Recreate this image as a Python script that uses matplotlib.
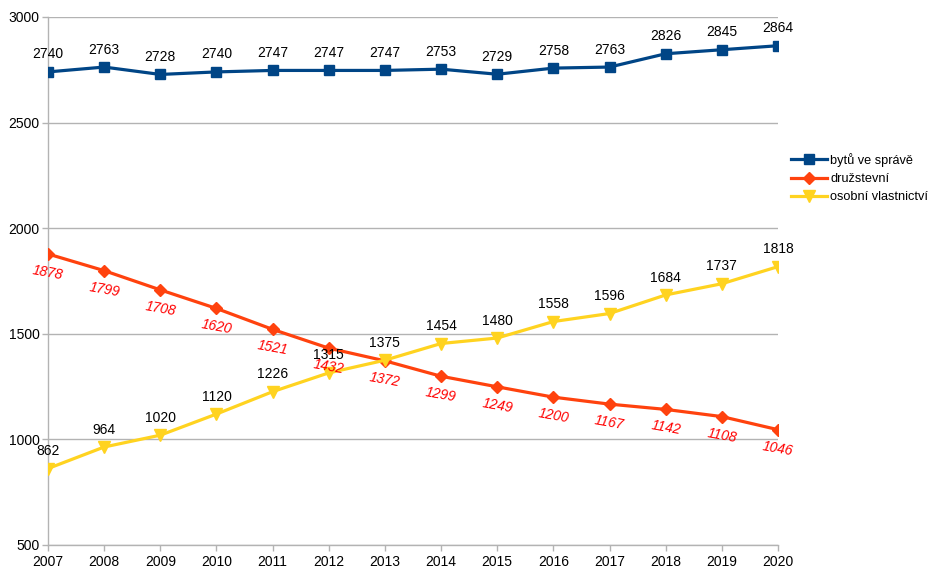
import matplotlib
matplotlib.use("Agg")
import matplotlib.pyplot as plt

years = [2007, 2008, 2009, 2010, 2011, 2012, 2013, 2014, 2015, 2016, 2017, 2018, 2019, 2020]
byty = [2740, 2763, 2728, 2740, 2747, 2747, 2747, 2753, 2729, 2758, 2763, 2826, 2845, 2864]
druzstevni = [1878, 1799, 1708, 1620, 1521, 1432, 1372, 1299, 1249, 1200, 1167, 1142, 1108, 1046]
osobni = [862, 964, 1020, 1120, 1226, 1315, 1375, 1454, 1480, 1558, 1596, 1684, 1737, 1818]
names = ["bytů ve správě", "družstevní", "osobní vlastnictví"]
yticks = [500, 1000, 1500, 2000, 2500, 3000]

plt.rcParams['font.family'] = ['Liberation Sans', 'DejaVu Sans']

fig = plt.figure(figsize=(9.38, 5.75), dpi=100)
ax = fig.add_axes([48/938, 1-545/575, (778-48)/938, (545-17)/575])

blue = "#004586"
orange = "#ff420e"
yellow = "#ffd320"

ax.plot(years, byty, color=blue, lw=2.3, marker='s', ms=7.5, label=names[0], zorder=3)
ax.plot(years, druzstevni, color=orange, lw=2.3, marker='D', ms=6, label=names[1], zorder=3)
ax.plot(years, osobni, color=yellow, lw=2.3, marker='v', ms=8.5, label=names[2], zorder=3)

fs = 10
for x, y in zip(years, byty):
    ax.annotate(str(y), (x, y), xytext=(0, 7.5), textcoords='offset points', ha='center', va='bottom', fontsize=fs, color='black')
for x, y in zip(years, osobni):
    ax.annotate(str(y), (x, y), xytext=(0, 7.5), textcoords='offset points', ha='center', va='bottom', fontsize=fs, color='black')
for x, y in zip(years, druzstevni):
    ax.annotate(str(y), (x, y), xytext=(0, -13.5), textcoords='offset points', ha='center', va='center', fontsize=fs, color='#ff0000', style='italic', rotation=-10)

ax.set_xlim(2007, 2020)
ax.set_ylim(500, 3000)
ax.set_xticks(years)
ax.set_yticks(yticks)
ax.tick_params(axis='both', labelsize=fs, color='#b3b3b3', length=4, width=1, pad=2)
ax.tick_params(axis='x', pad=3.5)
ax.grid(axis='y', color='#b3b3b3', lw=1)
ax.set_axisbelow(True)
for s in ['top', 'right']:
    ax.spines[s].set_visible(False)
for s in ['left', 'bottom']:
    ax.spines[s].set_color('#b3b3b3')
    ax.spines[s].set_linewidth(1)

ax.legend(loc='center left', bbox_to_anchor=(1.018, 0.695), frameon=False, fontsize=9.2,
          handlelength=2.8, handletextpad=0.25, labelspacing=0.5, borderaxespad=0, borderpad=0)

fig.savefig("out.png", dpi=100)
